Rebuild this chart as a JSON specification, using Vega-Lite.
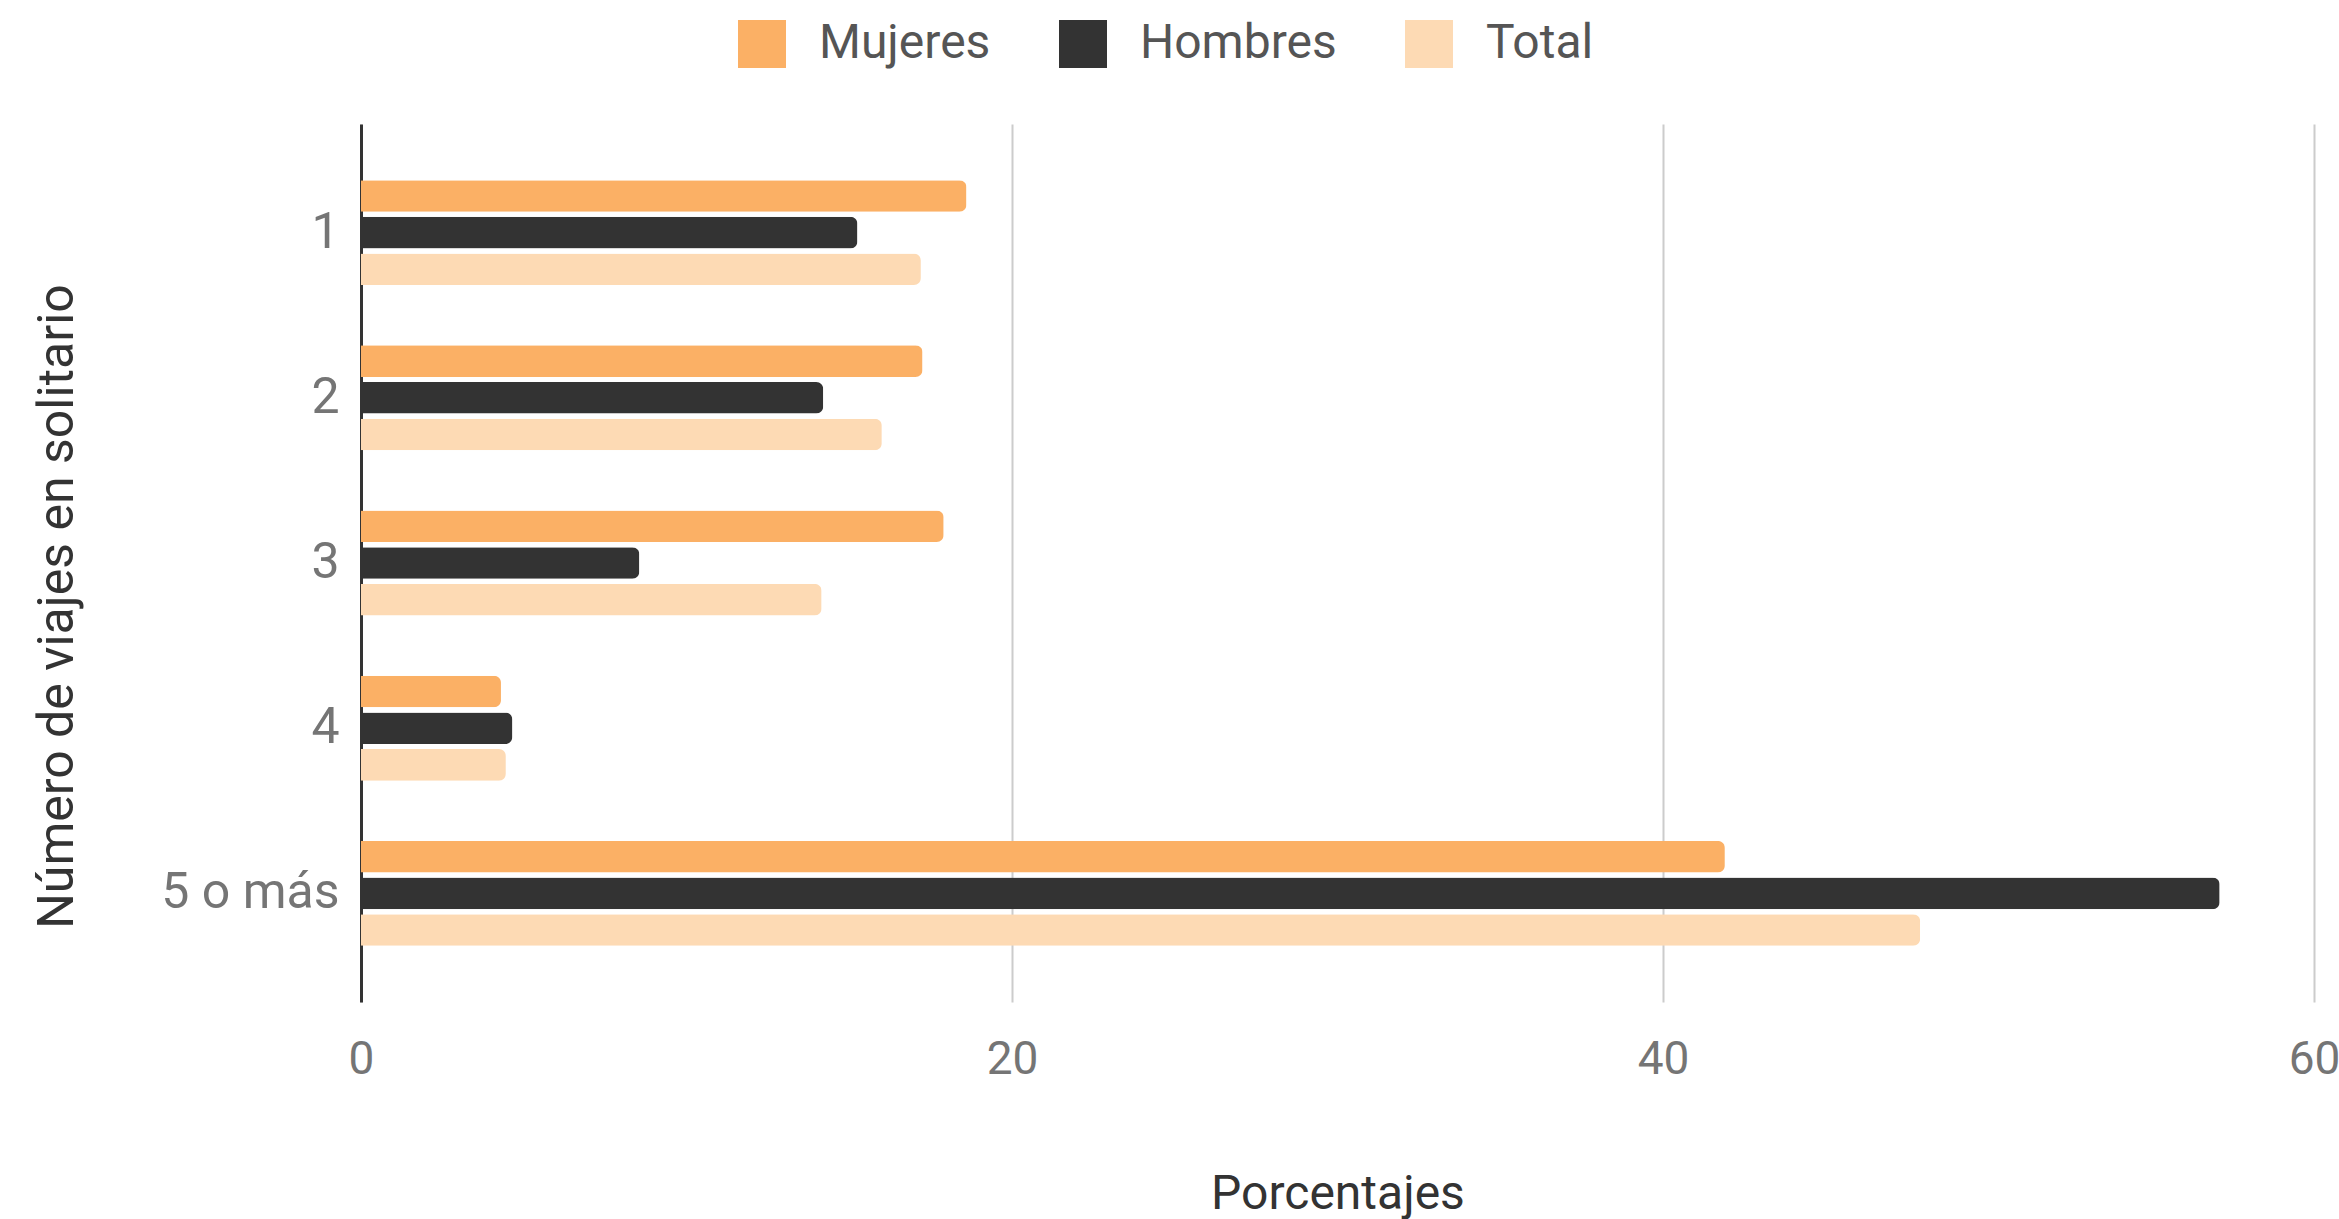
{
  "$schema": "https://vega.github.io/schema/vega-lite/v6.json",
  "autosize": {"type": "none"},
  "padding": {"left": 361, "top": 124, "right": 25, "bottom": 217},
  "width": 1953,
  "height": 878,
  "background": "white",
  "config": {
    "font": "Roboto",
    "view": {"stroke": null}
  },
  "data": {
    "values": [
      {"viajes": "1", "grupo": "Mujeres", "pct": 18.6},
      {"viajes": "1", "grupo": "Hombres", "pct": 15.25},
      {"viajes": "1", "grupo": "Total", "pct": 17.2},
      {"viajes": "2", "grupo": "Mujeres", "pct": 17.25},
      {"viajes": "2", "grupo": "Hombres", "pct": 14.2},
      {"viajes": "2", "grupo": "Total", "pct": 16.0},
      {"viajes": "3", "grupo": "Mujeres", "pct": 17.9},
      {"viajes": "3", "grupo": "Hombres", "pct": 8.55},
      {"viajes": "3", "grupo": "Total", "pct": 14.15},
      {"viajes": "4", "grupo": "Mujeres", "pct": 4.3},
      {"viajes": "4", "grupo": "Hombres", "pct": 4.65},
      {"viajes": "4", "grupo": "Total", "pct": 4.45},
      {"viajes": "5 o más", "grupo": "Mujeres", "pct": 41.9},
      {"viajes": "5 o más", "grupo": "Hombres", "pct": 57.1},
      {"viajes": "5 o más", "grupo": "Total", "pct": 47.9}
    ]
  },
  "mark": {"type": "bar", "cornerRadiusEnd": 7},
  "encoding": {
    "y": {
      "field": "viajes",
      "type": "nominal",
      "sort": ["1", "2", "3", "4", "5 o más"],
      "scale": {"paddingInner": 0.365, "paddingOuter": 0.34},
      "axis": {
        "title": "Número de viajes en solitario",
        "titleFontSize": 50,
        "titleFontWeight": "normal",
        "titleColor": "#333333",
        "titleAngle": 270,
        "titleAlign": "center",
        "titleBaseline": "middle",
        "titleX": -304,
        "titleY": 482,
        "labelFontSize": 50,
        "labelColor": "#757575",
        "labelPadding": 22,
        "ticks": false,
        "domain": true,
        "domainColor": "#333333",
        "domainWidth": 3,
        "grid": false
      }
    },
    "yOffset": {
      "field": "grupo",
      "type": "nominal",
      "sort": ["Mujeres", "Hombres", "Total"],
      "scale": {"paddingInner": 0.14}
    },
    "x": {
      "field": "pct",
      "type": "quantitative",
      "scale": {"domain": [0, 60], "nice": false},
      "axis": {
        "title": "Porcentajes",
        "titleFontSize": 48,
        "titleFontWeight": "normal",
        "titleColor": "#333333",
        "titleBaseline": "middle",
        "titleY": 192,
        "values": [0, 20, 40, 60],
        "labelFontSize": 46,
        "labelColor": "#757575",
        "labelPadding": 35,
        "labelFlush": false,
        "ticks": false,
        "domain": false,
        "grid": true,
        "gridColor": "#cccccc",
        "gridWidth": 2
      }
    },
    "color": {
      "field": "grupo",
      "type": "nominal",
      "sort": ["Mujeres", "Hombres", "Total"],
      "scale": {
        "domain": ["Mujeres", "Hombres", "Total"],
        "range": ["#FBB065", "#333333", "#FDDAB4"]
      },
      "legend": {
        "title": null,
        "orient": "none",
        "direction": "horizontal",
        "legendX": 377,
        "legendY": -104,
        "symbolType": "square",
        "symbolSize": 2304,
        "symbolStrokeWidth": 0,
        "labelFontSize": 48,
        "labelColor": "#555555",
        "labelOffset": 33,
        "labelLimit": 400,
        "columnPadding": 68
      }
    }
  }
}
